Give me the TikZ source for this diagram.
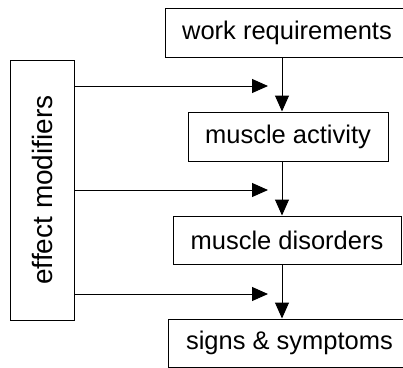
\documentclass[tikz,border=0pt]{standalone}
\usepackage{fontspec}
\setmainfont{Liberation Sans}
\usepackage{tikz}
\usetikzlibrary{arrows.meta,positioning,calc}

\begin{document}
\begin{tikzpicture}[x = 1pt, y = 1pt,
  box/.style = {draw, line width = 1pt, inner sep = 0pt, font = \fontsize{25.5}{30}\selectfont},
  arr/.style = {line width = 1pt, -{Triangle[length = 16pt, width = 14pt]}}]
\useasboundingbox (0,0) rectangle (403,-367);
\clip (0,0) rectangle (403,-367);
\node[box, minimum width = 244, minimum height = 49] (work) at (287,-32.5) {work requirements};
\node[box, minimum width = 200, minimum height = 49] (act) at (288,-136.5) {muscle activity};
\node[box, minimum width = 228, minimum height = 48] (dis) at (287,-240) {muscle disorders};
\node[box, minimum width = 243, minimum height = 48] (sym) at (289.5,-343) {signs \& symptoms};
\node[box, rotate = 90, minimum width = 260, minimum height = 64, font = \fontsize{28}{32}\selectfont] (mod) at (42,-190) {effect modifiers};
% the main chain
\coordinate (axis) at (282,0);
\draw[arr] (work.south -| axis) -- (act.north -| axis);
\draw[arr] (act.south -| axis) -- (dis.north -| axis);
\draw[arr] (dis.south -| axis) -- (sym.north -| axis);
% the modifiers
\coordinate (t1) at (268,-86);
\coordinate (t2) at (268,-190);
\coordinate (t3) at (268,-294);
\draw[arr] (mod.south |- t1) -- (t1);
\draw[arr] (mod.south |- t2) -- (t2);
\draw[arr] (mod.south |- t3) -- (t3);
\end{tikzpicture}
\end{document}
